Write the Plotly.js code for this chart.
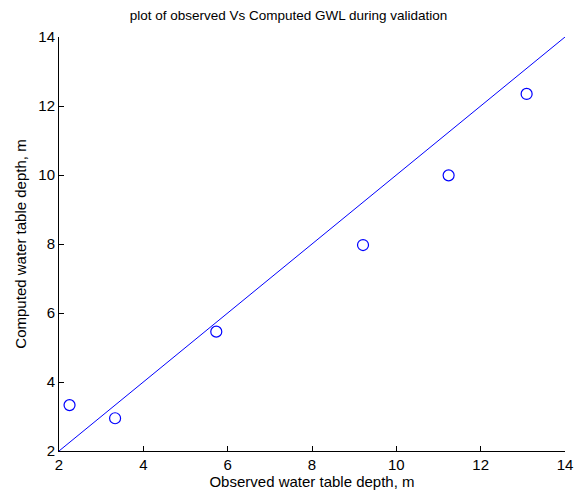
<!DOCTYPE html>
<html>
<head>
<meta charset="utf-8">
<script src="https://cdn.plot.ly/plotly-3.0.1.min.js"></script>
<style>html,body{margin:0;padding:0;background:#fff;}#chart{width:577px;height:495px;}</style>
</head>
<body>
<div id="chart"></div>
<script>
const observed = [2.25, 3.33, 5.73, 9.21, 11.24, 13.09];
const computed = [3.33, 2.95, 5.46, 7.97, 9.99, 12.35];
const lineX = [2, 14];
const lineY = [2, 14];
const tickVals = [2, 4, 6, 8, 10, 12, 14];

const traces = [
  {x: lineX, y: lineY, mode: 'lines', type: 'scatter', line: {color: '#0000ff', width: 1}, hoverinfo: 'skip'},
  {x: observed, y: computed, mode: 'markers', type: 'scatter',
   marker: {symbol: 'circle-open', size: 11, color: '#0000ff', line: {width: 1.2, color: '#0000ff'}}}
];
const fam = 'Liberation Sans, Arial, Helvetica, sans-serif';
const tickFont = {family: fam, size: 15, color: '#000'};
const titleFont = {family: fam, size: 15, color: '#000'};
const layout = {
  width: 577, height: 495,
  margin: {l: 58.5, r: 11.5, t: 37, b: 44},
  paper_bgcolor: '#fff', plot_bgcolor: '#fff',
  showlegend: false,
  font: tickFont,
  title: {text: 'plot of observed Vs Computed GWL during validation', font: {family: fam, size: 13.5, color: '#000'}, x: 0.5, xanchor: 'center', y: 0.978, yanchor: 'top'},
  xaxis: {range: [2, 14], tickvals: tickVals, ticks: 'inside', ticklen: 5, tickcolor: '#000', showline: true, linecolor: '#000', linewidth: 1, showgrid: false, zeroline: false,
    tickfont: tickFont, title: {text: 'Observed water table depth, m', font: titleFont, standoff: 2}},
  yaxis: {range: [2, 14], tickvals: tickVals, ticks: 'inside', ticklen: 5, tickcolor: '#000', showline: true, linecolor: '#000', linewidth: 1, showgrid: false, zeroline: false,
    tickfont: tickFont, title: {text: 'Computed water table depth, m', font: titleFont, standoff: 8}}
};
Plotly.newPlot('chart', traces, layout, {displayModeBar: false, staticPlot: true});
</script>
</body>
</html>
